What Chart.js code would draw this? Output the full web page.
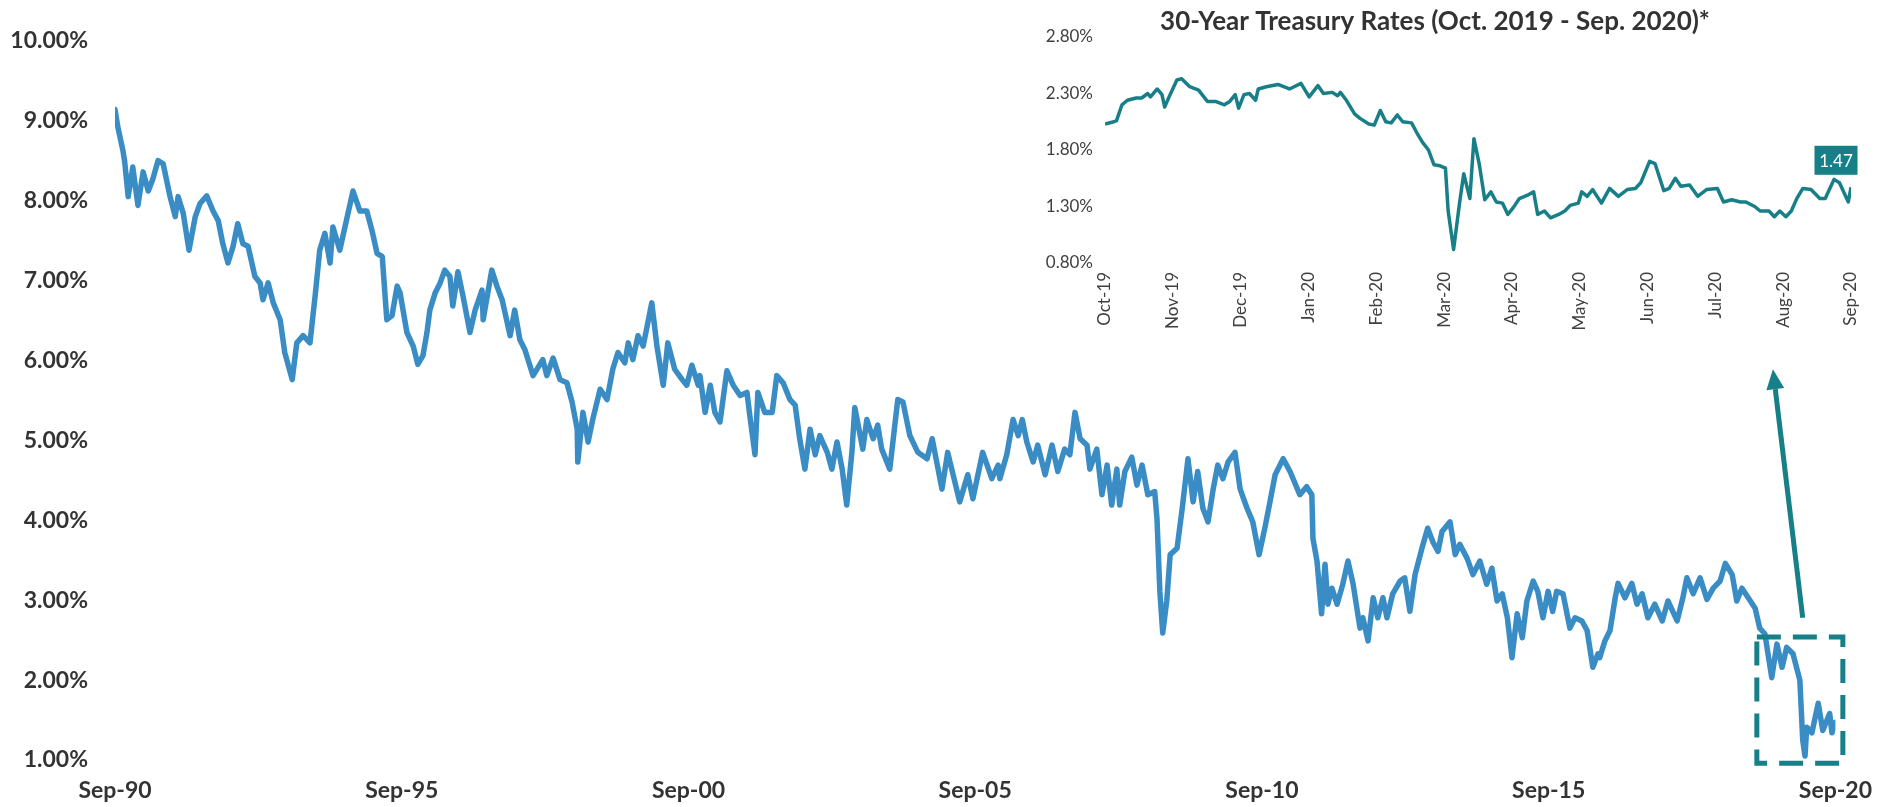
<!DOCTYPE html>
<html><head><meta charset="utf-8">
<script src="https://cdn.jsdelivr.net/npm/chart.js@4.4.1/dist/chart.umd.min.js"></script>
<style>
html,body{margin:0;padding:0;background:#fff;width:1889px;height:807px;overflow:hidden;}
#main{position:absolute;left:0;top:0;}
#inset{position:absolute;left:1000px;top:0;}
</style></head><body>
<canvas id="main" width="1889" height="807"></canvas>
<canvas id="inset" width="889" height="350"></canvas>
<script>
// ---- Main chart data (decimal year, 30-year Treasury yield %) ----
const mainDates = [
1990.67,1990.72,1990.81,1990.84,1990.90,1990.98,1991.07,1991.16,1991.25,1991.33,
1991.42,1991.51,1991.63,1991.72,1991.77,1991.86,1991.96,1992.07,1992.15,1992.27,
1992.38,1992.47,1992.55,1992.64,1992.73,1992.81,1992.90,1992.99,1993.11,1993.20,
1993.25,1993.34,1993.43,1993.55,1993.63,1993.76,1993.84,1993.95,1994.07,1994.16,
1994.24,1994.33,1994.42,1994.47,1994.59,1994.72,1994.82,1994.94,1995.06,1995.15,
1995.24,1995.33,1995.41,1995.50,1995.59,1995.64,
1995.76,1995.87,1995.95,1996.04,1996.11,1996.16,1996.25,1996.34,1996.42,1996.51,
1996.56,1996.65,1996.74,1996.86,1996.95,1997.07,1997.09,1997.24,1997.33,1997.42,
1997.56,1997.64,1997.73,1997.82,1997.96,1998.13,1998.20,1998.31,1998.43,1998.55,
1998.64,1998.73,1998.74,1998.83,1998.92,1999.00,1999.13,1999.25,1999.35,1999.44,
1999.56,1999.62,1999.70,1999.79,1999.88,1999.95,2000.03,2000.12,2000.23,2000.31,
2000.43,2000.56,2000.64,2000.73,2000.84,
2000.87,2000.96,2001.05,2001.13,2001.22,2001.34,2001.45,2001.57,2001.69,2001.74,
2001.83,2001.88,2002.00,2002.13,2002.21,2002.32,2002.44,2002.53,2002.61,2002.70,
2002.79,2002.88,2002.96,2003.09,2003.17,2003.26,2003.35,2003.43,2003.52,2003.57,
2003.71,2003.78,2003.89,2003.97,2004.04,2004.18,2004.32,2004.41,2004.53,2004.67,
2004.83,2004.92,2005.09,2005.19,2005.40,2005.54,2005.63,2005.80,2005.96,2006.07,
2006.10,2006.22,2006.33,2006.42,2006.49,2006.57,2006.68,2006.76,2006.89,2007.01,
2007.11,2007.23,2007.32,2007.41,2007.50,2007.62,2007.67,2007.79,2007.88,2007.97,
2008.05,2008.14,2008.19,2008.28,2008.40,2008.49,2008.58,2008.68,2008.80,2008.84,
2008.89,2008.94,2009.01,2009.07,2009.19,2009.28,2009.38,2009.47,2009.55,2009.64,
2009.73,2009.82,2009.90,2009.99,2010.08,2010.20,2010.29,2010.41,2010.51,2010.62,
2010.72,2010.81,2010.90,2011.04,2011.16,
2011.33,2011.45,2011.54,2011.56,2011.63,2011.71,2011.77,2011.82,2011.89,2011.98,
2012.08,2012.17,2012.26,2012.38,2012.43,2012.52,2012.61,2012.69,2012.78,2012.85,
2012.95,2013.08,2013.16,2013.25,2013.34,2013.46,2013.56,2013.65,2013.74,2013.81,
2013.95,2014.04,2014.12,2014.25,2014.35,2014.47,2014.59,2014.68,2014.77,2014.86,
2014.95,2015.03,2015.12,2015.21,2015.29,2015.40,2015.48,2015.57,2015.66,2015.74,
2015.81,2015.92,2016.04,2016.13,2016.25,2016.34,2016.44,2016.53,
2016.56,2016.65,2016.74,2016.83,2016.88,2017.00,2017.12,2017.21,2017.30,2017.40,
2017.52,2017.65,2017.75,2017.91,2018.01,2018.08,2018.19,2018.31,2018.43,2018.54,
2018.66,2018.75,2018.87,2018.95,2019.04,2019.15,2019.27,2019.35,2019.44,2019.56,
2019.65,2019.74,2019.82,2019.93,2020.05,2020.10,2020.14,2020.17,2020.26,2020.37,
2020.45,2020.57,2020.61,2020.67
];
const mainRates = [
9.14,8.92,8.62,8.48,8.05,8.42,7.94,8.36,8.12,8.27,
8.50,8.46,8.05,7.80,8.05,7.84,7.38,7.80,7.96,8.06,
7.87,7.75,7.46,7.22,7.43,7.71,7.46,7.43,7.05,6.97,
6.76,6.97,6.72,6.51,6.10,5.76,6.22,6.31,6.22,6.81,
7.38,7.59,7.22,7.67,7.38,7.80,8.12,7.87,7.87,7.63,
7.34,7.30,6.51,6.56,6.93,6.85,
6.35,6.18,5.95,6.06,6.35,6.63,6.84,6.97,7.13,7.05,
6.68,7.11,6.80,6.35,6.63,6.88,6.51,7.13,6.93,6.76,
6.31,6.63,6.26,6.13,5.81,6.01,5.81,6.03,5.76,5.72,
5.48,5.14,4.73,5.35,4.98,5.26,5.64,5.51,5.89,6.10,
5.97,6.22,6.01,6.31,6.18,6.43,6.72,6.18,5.69,6.22,
5.89,5.76,5.69,5.94,5.69,
5.81,5.35,5.69,5.35,5.23,5.87,5.69,5.56,5.60,5.31,
4.82,5.60,5.35,5.35,5.81,5.72,5.51,5.44,5.02,4.64,
5.14,4.82,5.06,4.85,4.64,4.98,4.64,4.19,4.85,5.41,
4.89,5.26,5.02,5.19,4.89,4.64,5.51,5.48,5.06,4.85,
4.77,5.02,4.39,4.85,4.23,4.57,4.27,4.85,4.52,4.69,
4.52,4.82,5.26,5.06,5.26,4.98,4.73,4.94,4.57,4.94,
4.61,4.89,4.82,5.35,5.02,4.94,4.64,4.89,4.32,4.69,
4.19,4.64,4.19,4.61,4.79,4.44,4.69,4.32,4.36,4.02,
3.11,2.59,2.99,3.57,3.65,4.15,4.77,4.23,4.61,4.15,
3.98,4.39,4.69,4.52,4.73,4.85,4.39,4.15,3.98,3.57,
3.90,4.23,4.57,4.77,4.61,
4.32,4.42,4.32,3.77,3.49,2.83,3.45,2.95,3.15,2.95,
3.20,3.49,3.20,2.65,2.78,2.49,3.03,2.78,3.03,2.78,
3.08,3.24,3.28,2.86,3.32,3.65,3.90,3.73,3.61,3.86,
3.98,3.57,3.70,3.52,3.32,3.49,3.20,3.40,2.99,3.08,
2.78,2.28,2.83,2.53,2.99,3.24,3.11,2.78,3.11,2.86,
3.11,3.08,2.65,2.78,2.74,2.62,2.16,2.33,
2.28,2.49,2.62,3.03,3.21,3.03,3.21,2.95,3.08,2.78,
2.95,2.74,2.99,2.74,3.03,3.28,3.08,3.28,3.01,3.15,
3.24,3.46,3.32,2.99,3.15,3.03,2.90,2.65,2.58,2.03,
2.45,2.16,2.41,2.33,2.00,1.25,1.05,1.41,1.34,1.71,
1.37,1.58,1.34,1.47
];
const mainTickYears = [1990.67,1995.67,2000.67,2005.67,2010.67,2015.67,2020.67];
const mainTickLabels = ['Sep-90','Sep-95','Sep-00','Sep-05','Sep-10','Sep-15','Sep-20'];
const mainYTicks = [1,2,3,4,5,6,7,8,9,10];

// ---- Inset data (months since Oct-2019, yield %) ----
const insetMonths = [
0.00,0.13,0.17,0.25,0.33,0.46,0.54,0.63,0.67,0.77,
0.84,0.88,0.96,1.06,1.13,1.25,1.38,1.51,1.63,1.76,
1.84,1.92,1.97,2.05,2.13,2.22,2.26,2.38,2.55,2.72,
2.89,3.01,3.14,3.22,3.35,3.43,3.47,3.56,3.68,3.76,
3.89,3.97,4.06,4.14,4.22,4.31,4.39,4.52,4.60,4.68,
4.77,4.85,4.94,5.02,5.06,5.14,5.23,5.29,5.38,5.44,
5.52,5.60,5.69,5.77,5.86,5.94,6.02,6.11,6.23,6.32,
6.38,6.48,6.57,6.69,6.78,6.86,6.98,7.03,7.11,7.19,
7.32,7.44,7.57,7.70,7.82,7.90,8.03,8.11,8.24,8.32,
8.41,8.49,8.62,8.74,8.87,9.03,9.12,9.24,9.37,9.45,
9.58,9.66,9.79,9.87,9.95,10.04,10.12,10.20,10.29,10.41,
10.54,10.62,10.75,10.83,10.96,11.00
];
const insetRates = [
2.03,2.05,2.06,2.20,2.24,2.26,2.26,2.30,2.27,2.34,
2.29,2.18,2.29,2.42,2.43,2.36,2.33,2.23,2.23,2.20,
2.23,2.29,2.17,2.29,2.30,2.24,2.34,2.36,2.38,2.34,
2.39,2.27,2.37,2.30,2.31,2.28,2.31,2.24,2.12,2.08,
2.03,2.02,2.15,2.05,2.04,2.11,2.05,2.04,1.95,1.87,
1.80,1.67,1.66,1.64,1.26,0.92,1.34,1.59,1.37,1.90,
1.67,1.36,1.43,1.34,1.33,1.23,1.29,1.37,1.40,1.43,
1.23,1.26,1.20,1.23,1.26,1.31,1.33,1.43,1.39,1.45,
1.33,1.46,1.39,1.45,1.46,1.51,1.70,1.68,1.44,1.46,
1.55,1.48,1.49,1.39,1.45,1.46,1.34,1.36,1.34,1.34,
1.30,1.26,1.26,1.21,1.26,1.21,1.26,1.37,1.46,1.45,
1.37,1.37,1.54,1.51,1.34,1.47
];
const insetMonthLabels = ['Oct-19','Nov-19','Dec-19','Jan-20','Feb-20','Mar-20','Apr-20','May-20','Jun-20','Jul-20','Aug-20','Sep-20'];
const insetYTicks = [0.8,1.3,1.8,2.3,2.8];
const insetTitle = '30-Year Treasury Rates (Oct. 2019 - Sep. 2020)*';

// ---- styling ----
const blue = '#3a8cc5';
const teal = '#177f87';
const textDark = '#333333';
Chart.defaults.font.family = 'Lato, "Open Sans", sans-serif';
Chart.defaults.animation = false;

// highlight overlay (in data units of main chart)
const highlightBox = {x0: 2019.30, x1: 2020.80, yLow: 0.96, yHigh: 2.54};
const arrowSpec = {fromX: 2020.10, fromY: 2.78, toX: 2019.58, toY: 5.89};

const overlayPlugin = {
  id: 'overlay',
  afterDatasetsDraw(chart) {
    const {ctx, scales: {x, y}} = chart;
    ctx.save();
    ctx.strokeStyle = teal;
    ctx.lineWidth = 5;
    ctx.setLineDash([24, 12]);
    const L = x.getPixelForValue(highlightBox.x0), R = x.getPixelForValue(highlightBox.x1);
    const T = y.getPixelForValue(highlightBox.yHigh), B = y.getPixelForValue(highlightBox.yLow);
    ctx.strokeRect(L, T, R - L, B - T);
    ctx.setLineDash([]);
    const x1 = x.getPixelForValue(arrowSpec.fromX), y1 = y.getPixelForValue(arrowSpec.fromY);
    const x2 = x.getPixelForValue(arrowSpec.toX), y2 = y.getPixelForValue(arrowSpec.toY);
    const ang = Math.atan2(y2 - y1, x2 - x1);
    const head = 20, hw = 9;
    const bx = x2 - head * Math.cos(ang), by = y2 - head * Math.sin(ang);
    ctx.lineWidth = 5;
    ctx.beginPath(); ctx.moveTo(x1, y1); ctx.lineTo(bx, by); ctx.stroke();
    ctx.fillStyle = teal;
    ctx.beginPath();
    ctx.moveTo(x2, y2);
    ctx.lineTo(bx + hw * Math.sin(ang), by - hw * Math.cos(ang));
    ctx.lineTo(bx - hw * Math.sin(ang), by + hw * Math.cos(ang));
    ctx.closePath(); ctx.fill();
    ctx.restore();
  }
};

new Chart(document.getElementById('main'), {
  type: 'line',
  data: {
    datasets: [{
      data: mainDates.map((d, i) => ({x: d, y: mainRates[i]})),
      borderColor: blue,
      borderWidth: 5.5,
      pointRadius: 0,
      tension: 0,
      borderJoinStyle: 'round',
      borderCapStyle: 'round'
    }]
  },
  options: {
    responsive: false,
    layout: {padding: {left: 0, right: 53.5, top: 36, bottom: 0}},
    plugins: {legend: {display: false}, tooltip: {enabled: false}},
    scales: {
      x: {
        type: 'linear', min: mainTickYears[0], max: mainTickYears[mainTickYears.length - 1],
        afterBuildTicks: s => { s.ticks = mainTickYears.map(v => ({value: v})); },
        afterFit: s => { s.height = 47; },
        grid: {display: false, drawTicks: false},
        border: {display: false},
        ticks: {autoSkip: false, maxRotation: 0, padding: 17, color: textDark,
                font: {size: 23, weight: 'bold'},
                callback: (v, i) => mainTickLabels[i]}
      },
      y: {
        min: 1, max: 10,
        afterBuildTicks: s => { s.ticks = mainYTicks.map(v => ({value: v})); },
        afterFit: s => { s.width = 115; },
        grid: {display: false, drawTicks: false},
        border: {display: false},
        ticks: {padding: 27, color: textDark, font: {size: 23, weight: 'bold'},
                callback: v => Number(v).toFixed(2) + '%'}
      }
    }
  },
  plugins: [overlayPlugin]
});

const insetDecor = {
  id: 'insetDecor',
  afterDatasetsDraw(chart) {
    const {ctx} = chart;
    ctx.save();
    ctx.fillStyle = textDark;
    ctx.font = 'bold 26px Lato, "Open Sans", sans-serif';
    ctx.textAlign = 'center';
    ctx.textBaseline = 'middle';
    ctx.fillText(insetTitle, 435, 22);
    const meta = chart.getDatasetMeta(0);
    const pt = meta.data[meta.data.length - 1];
    const cx = pt.x - 15, cy = pt.y - 27, w = 43, h = 29;
    ctx.fillStyle = teal;
    ctx.fillRect(cx - w / 2, cy - h / 2, w, h);
    ctx.fillStyle = '#ffffff';
    ctx.font = '17px Lato, "Open Sans", sans-serif';
    ctx.fillText(insetRates[insetRates.length - 1].toFixed(2), cx, cy + 1);
    ctx.restore();
  }
};

new Chart(document.getElementById('inset'), {
  type: 'line',
  data: {
    datasets: [{
      data: insetMonths.map((m, i) => ({x: m, y: insetRates[i]})),
      borderColor: teal,
      borderWidth: 3.5,
      pointRadius: 0,
      tension: 0,
      borderJoinStyle: 'round'
    }]
  },
  options: {
    responsive: false,
    layout: {padding: {left: 0, right: 38, top: 37, bottom: 0}},
    plugins: {legend: {display: false}, tooltip: {enabled: false}},
    scales: {
      x: {
        type: 'linear', min: 0, max: 11,
        afterBuildTicks: s => { s.ticks = insetMonthLabels.map((l, i) => ({value: i})); },
        afterFit: s => { s.height = 87; },
        grid: {display: false, drawTicks: false},
        border: {display: false},
        ticks: {autoSkip: false, minRotation: 90, maxRotation: 90, padding: 9, color: '#404040',
                font: {size: 17}, callback: (v, i) => insetMonthLabels[i]}
      },
      y: {
        min: 0.8, max: 2.8,
        afterBuildTicks: s => { s.ticks = insetYTicks.map(v => ({value: v})); },
        afterFit: s => { s.width = 105; },
        grid: {display: false, drawTicks: false},
        border: {display: false},
        ticks: {padding: 12, color: '#404040', font: {size: 17},
                callback: v => Number(v).toFixed(2) + '%'}
      }
    }
  },
  plugins: [insetDecor]
});
</script>
</body></html>
